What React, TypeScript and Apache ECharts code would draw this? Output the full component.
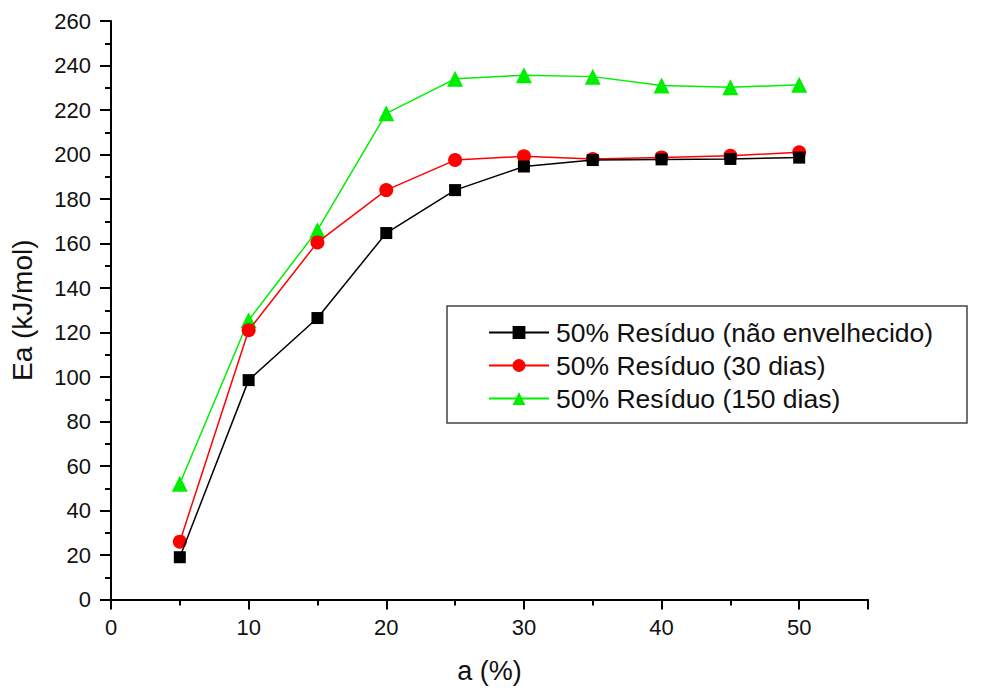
import React, { useEffect, useRef } from "react";
import * as echarts from "echarts";

const xValues = [5, 10, 15, 20, 25, 30, 35, 40, 45, 50];
const seriesNames = [
  "50% Resíduo (não envelhecido)",
  "50% Resíduo (30 dias)",
  "50% Resíduo (150 dias)",
];
const blackValues = [19, 98.6, 126.5, 164.7, 184, 194.6, 197.5, 197.8, 198, 198.6];
const redValues = [26, 121, 160.5, 184, 197.5, 199.2, 198, 198.7, 199.4, 201];
const greenValues = [52, 125.5, 166, 218.5, 234, 235.6, 235, 231, 230.2, 231.3];

const xTitle = "a (%)";
const yTitle = "Ea (kJ/mol)";

export default function App() {
  const ref = useRef<HTMLDivElement>(null);
  useEffect(() => {
    if (!ref.current) return;
    const chart = echarts.init(ref.current, null, { renderer: "svg" });
    const font = "Arial, 'Liberation Sans', sans-serif";
    const mk = (vals: number[]) => xValues.map((x, i) => [x, vals[i]]);
    const colors = ["#000000", "#ff0000", "#00ee00"];
    const symbols = ["rect", "circle", "triangle"];
    const sizes = [12, 14, 16];
    const data = [blackValues, redValues, greenValues];
    chart.setOption({
      animation: false,
      backgroundColor: "#ffffff",
      grid: {
        left: 111,
        top: 21,
        right: 123,
        bottom: 90.5,
        containLabel: false,
        outerBoundsMode: "none",
      },
      xAxis: {
        type: "value",
        min: 0,
        max: 55,
        interval: 10,
        name: xTitle,
        nameLocation: "middle",
        nameGap: 58,
        nameTextStyle: { fontFamily: font, fontSize: 27, color: "#111" },
        axisLine: { lineStyle: { color: "#000", width: 2 } },
        axisTick: { show: true, length: 10, lineStyle: { color: "#000", width: 2 } },
        minorTick: { show: true, splitNumber: 2, length: 6, lineStyle: { color: "#000", width: 2 } },
        splitLine: { show: false },
        axisLabel: {
          fontFamily: font,
          fontSize: 22,
          color: "#111",
          margin: 17,
          formatter: (v: number) => (v > 50 ? "" : String(v)),
        },
      },
      yAxis: {
        type: "value",
        min: 0,
        max: 260,
        interval: 20,
        name: yTitle,
        nameLocation: "middle",
        nameGap: 75,
        nameRotate: 90,
        nameTextStyle: { fontFamily: font, fontSize: 28, color: "#111" },
        axisLine: { show: true, lineStyle: { color: "#000", width: 2 } },
        axisTick: { show: true, length: 11, lineStyle: { color: "#000", width: 2 } },
        minorTick: { show: true, splitNumber: 2, length: 6, lineStyle: { color: "#000", width: 2 } },
        splitLine: { show: false },
        axisLabel: { fontFamily: font, fontSize: 22, color: "#111", margin: 20 },
      },
      legend: {
        orient: "vertical",
        left: 488,
        top: 316,
        padding: 0,
        itemGap: 0,
        itemWidth: 60,
        itemHeight: 16,
        textStyle: { fontFamily: font, fontSize: 26.5, color: "#111", lineHeight: 33, padding: [0, 0, 0, 2] },
        data: seriesNames,
      },
      graphic: [
        {
          type: "rect",
          shape: { x: 447, y: 306, width: 520, height: 117 },
          style: { fill: "#fff", stroke: "#444", lineWidth: 1.5 },
          z: 0,
          zlevel: 0,
        },
      ],
      series: seriesNames.map((name, i) => ({
        name,
        type: "line",
        data: mk(data[i]),
        symbol: symbols[i],
        symbolSize: sizes[i],
        showAllSymbol: true,
        itemStyle: { color: colors[i] },
        lineStyle: { color: colors[i], width: 1.5 },
        z: 3 - i,
      })),
    });
    return () => chart.dispose();
  }, []);
  return <div ref={ref} style={{ width: 991, height: 690, position: "absolute", left: 0, top: 0 }} />;
}
